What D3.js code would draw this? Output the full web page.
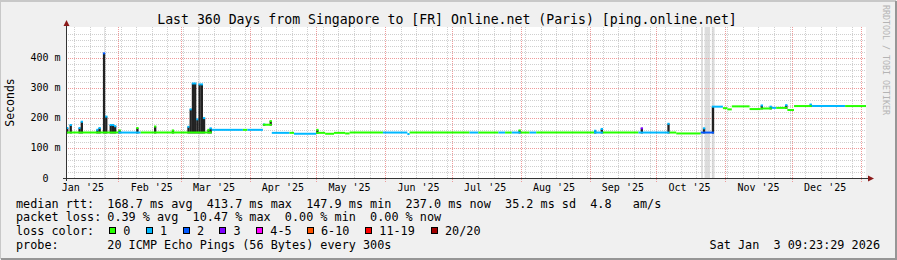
<!DOCTYPE html>
<html>
<head>
<meta charset="utf-8">
<script src="https://cdn.jsdelivr.net/npm/d3@7"></script>
<style>
  body { margin: 0; background: #f0f0f0; }
  svg { display: block; }
  text { font-family: "DejaVu Sans Mono", monospace; white-space: pre; }
</style>
</head>
<body>
<script>
// median rtt, one entry per change (date, ms, loss class)
const medianDates = ["2025-01-08","2025-02-01","2025-02-11","2025-03-15","2025-03-29","2025-03-31","2025-04-07","2025-04-11",
  "2025-04-19","2025-04-21","2025-05-01","2025-05-05","2025-05-09","2025-05-14","2025-05-16","2025-05-31","2025-06-11",
  "2025-06-12","2025-07-09","2025-07-13","2025-07-22","2025-07-25","2025-07-28","2025-08-01","2025-08-05","2025-08-08",
  "2025-09-03","2025-09-07","2025-09-23","2025-10-07","2025-10-10","2025-10-21","2025-10-27","2025-10-31","2025-11-02",
  "2025-11-04","2025-11-12","2025-11-17","2025-11-22","2025-11-24","2025-11-29","2025-12-02","2025-12-10","2025-12-25"];
const medianValues = [151,151,151,160,160,160,177,150,
  150,147,150,147,150,148,151,151,146,
  151,151,151,151,151,151,151,151,151,
  151,151,151,151,148,151,237,232,228,
  238,229,231,233,233,226,239,239,239];
const medianLoss = [0,1,0,1,0,1,0,1,
  0,1,0,0,0,0,0,1,1,
  0,1,0,1,0,1,0,1,0,
  1,0,1,0,0,2,1,0,0,
  0,0,0,1,0,0,0,1,0];

// smoke spikes (date, top ms, loss class of the median on top)
const spikeDates = ["2025-01-08 10:00","2025-01-10","2025-01-14","2025-01-15","2025-01-22","2025-01-23","2025-01-25","2025-01-26",
  "2025-01-28","2025-01-29","2025-01-30","2025-02-01","2025-02-09","2025-02-17","2025-02-25","2025-03-04","2025-03-05",
  "2025-03-06","2025-03-07","2025-03-08","2025-03-09","2025-03-10","2025-03-11","2025-03-13","2025-03-14","2025-04-07",
  "2025-04-10","2025-05-01","2025-07-31","2025-09-03","2025-09-06","2025-09-24","2025-10-06","2025-10-22","2025-10-26",
  "2025-11-17","2025-11-21","2025-11-28","2025-12-09"];
const spikeTops = [166,176,166,187,160,166,414,204,
  176,176,172,158,166,171,158,170,228,
  314,314,195,311,311,199,160,165,178,
  189,160,158,157,163,165,180,165,237,
  241,237,242,244];
const spikeLoss = [1,1,1,1,1,1,2,1,
  1,1,1,0,0,0,0,1,1,
  1,1,1,1,1,1,0,1,1,
  0,0,0,1,1,3,1,1,1,
  1,1,1,1];

// periods without data
const unknownStart = ["2025-01-25 14:00","2025-03-09 04:00","2025-10-21 04:00","2025-10-22 18:00","2025-10-26 00:00"];
const unknownEnd   = ["2025-01-25 22:00","2025-03-09 12:00","2025-10-22 00:00","2025-10-25 06:00","2025-10-27 06:00"];

const lossColors = ["#26ff00","#00b8ff","#0059ff","#7e00ff","#ff00ff","#ff5500","#ff0000","#a10000"];
const lossLabels = ["0","1","2","3","4-5","6-10","11-19","20/20"];
const yTicks = [0, 100, 200, 300, 400];
const rttLine = "168.7 ms avg  413.7 ms max  147.9 ms min  237.0 ms now  35.2 ms sd  4.8   am/s";
const lossLine = "0.39 % avg  10.47 % max  0.00 % min  0.00 % now";

const title = "Last 360 Days from Singapore to [FR] Online.net (Paris) [ping.online.net]";
const probeText = "20 ICMP Echo Pings (56 Bytes) every 300s";
const stamp = "Sat Jan  3 09:23:29 2026";

const W = 897, H = 260;
const pDay = d3.timeParse("%Y-%m-%d"), pHour = d3.timeParse("%Y-%m-%d %H:%M");
const parse = s => s.length > 10 ? pHour(s) : pDay(s);

const tStart = pHour("2025-01-08 09:23"), tEnd = pHour("2026-01-03 09:23");
const x = d3.scaleTime().domain([tStart, tEnd]).range([66, 866]);
const y = d3.scaleLinear().domain([0, 500]).range([178, 27.5]);
const px = v => Math.round(v) + 0.5;

const svg = d3.select("body").append("svg").attr("width", W).attr("height", H);

// canvas + frame
svg.append("rect").attr("width", W).attr("height", H).attr("fill", "#f0f0f0");
svg.append("path").attr("d", `M0,${H-1}V1H${W-1}`).attr("fill", "none").attr("stroke", "#c8c8c8").attr("stroke-width", 2);
svg.append("path").attr("d", `M1,${H-1}H${W-1}V1`).attr("fill", "none").attr("stroke", "#969696").attr("stroke-width", 2);

svg.append("rect").attr("x", 66).attr("y", 27).attr("width", 800).attr("height", 151).attr("fill", "#fff");

// unknown bands
svg.append("g").selectAll("rect").data(unknownStart).join("rect")
  .attr("x", (d, i) => x(parse(d)))
  .attr("width", (d, i) => x(parse(unknownEnd[i])) - x(parse(d)))
  .attr("y", 27).attr("height", 151).attr("fill", "#dcdcdc");

// grid
const grid = svg.append("g").attr("fill", "none").attr("stroke-width", 1).attr("stroke-dasharray", "1,1");
d3.range(20, 500, 20).filter(v => v % 100 != 0).forEach(v => {
  grid.append("line").attr("x1", 66).attr("x2", 866).attr("y1", px(y(v))).attr("y2", px(y(v))).attr("stroke", "#cfcfcf");
});
d3.timeSunday.range(tStart, tEnd).forEach(t => {
  grid.append("line").attr("x1", px(x(t))).attr("x2", px(x(t))).attr("y1", 27).attr("y2", 178).attr("stroke", "#cfcfcf");
});
yTicks.filter(v => v > 0).forEach(v => {
  grid.append("line").attr("x1", 66).attr("x2", 866).attr("y1", px(y(v))).attr("y2", px(y(v))).attr("stroke", "#ee9a9a");
});
d3.timeMonth.range(tStart, tEnd).forEach(t => {
  grid.append("line").attr("x1", px(x(t))).attr("x2", px(x(t))).attr("y1", 27).attr("y2", 182).attr("stroke", "#ee9a9a");
});

// median lookup for spike base
const medTimes = medianDates.map(parse);
const medAt = t => medianValues[Math.max(0, d3.bisectRight(medTimes, t) - 1)];

// smoke spikes
const spikes = svg.append("g");
spikeDates.forEach((d, i) => {
  const t = parse(d), x0 = Math.max(66, x(t)), top = y(spikeTops[i]), base = y(medAt(t) - 3);
  spikes.append("rect").attr("x", x0).attr("width", 2.3).attr("y", top).attr("height", base - top).attr("fill", "#222");
  spikes.append("rect").attr("x", x0).attr("width", 2.3).attr("y", top - 1).attr("height", 2).attr("fill", lossColors[spikeLoss[i]]);
});

// median line, coloured by loss
const med = svg.append("g");
medianDates.forEach((d, i) => {
  const x1 = Math.max(66, x(medTimes[i]));
  const x2 = i + 1 < medianDates.length ? x(medTimes[i + 1]) : 866;
  med.append("line").attr("x1", x1).attr("x2", x2).attr("y1", y(medianValues[i])).attr("y2", y(medianValues[i]))
    .attr("stroke", lossColors[medianLoss[i]]).attr("stroke-width", 2);
});

// axes
svg.append("line").attr("x1", 63).attr("x2", 869).attr("y1", 178.5).attr("y2", 178.5).attr("stroke", "#333");
svg.append("line").attr("x1", 66.5).attr("x2", 66.5).attr("y1", 24).attr("y2", 181).attr("stroke", "#333");
svg.append("path").attr("d", "M63.5,26L69.5,26L66.5,20Z").attr("fill", "#8b1a1a");
svg.append("path").attr("d", "M868,175.5L868,181.5L874,178.5Z").attr("fill", "#8b1a1a");

// y tick labels
svg.append("g").attr("font-size", 10).attr("text-anchor", "end").selectAll("text").data(yTicks).join("text")
  .attr("x", d => d == 0 ? 48.5 : 60.5).attr("y", d => y(d) + 3.5)
  .text(d => d == 0 ? "0" : d + " m");

// x labels at mid-month
const fmt = d3.timeFormat("%b '%y");
svg.append("g").attr("font-size", 10).attr("text-anchor", "middle").selectAll("text")
  .data(d3.timeMonth.range(d3.timeMonth.floor(tStart), tEnd).map(m => d3.timeDay.offset(m, 15)).filter(t => t > tStart && t < tEnd))
  .join("text").attr("x", d => x(d)).attr("y", 190.5).text(d => fmt(d));

// title, axis label, watermark
svg.append("text").attr("x", 447).attr("y", 24).attr("text-anchor", "middle").attr("font-size", 13.2).text(title);
svg.append("text").attr("transform", "translate(14,102.5) rotate(-90)").attr("text-anchor", "middle").attr("font-size", 11.5).text("Seconds");
svg.append("text").attr("transform", "translate(883,5) rotate(90)").attr("font-size", 8.3).attr("fill", "#b4b4b4").text("RRDTOOL / TOBI OETIKER");

// legend
const leg = svg.append("g").attr("font-size", 11.8);
const line = (tx, lx, ly) => leg.append("text").attr("xml:space", "preserve").attr("x", lx).attr("y", ly).text(tx);
line("median rtt:", 16, 207.5);
line(rttLine, 107.3, 207.5);
line("packet loss:", 16, 221.3);
line(lossLine, 107.3, 221.3);
line("loss color:", 16, 235);
const boxX = [109, 145.7, 182.7, 219.3, 256, 306.7, 365, 430.7];
lossLabels.forEach((s, i) => {
  leg.append("rect").attr("x", Math.round(boxX[i]) + 0.5).attr("y", 227.5).attr("width", 6).attr("height", 6)
    .attr("fill", lossColors[i]).attr("stroke", "#000");
  line(s, boxX[i] + 14.3, 235);
});
line("probe:", 16, 249);
line(probeText, 107.3, 249);
line(stamp, 880, 249).attr("text-anchor", "end");
</script>
</body>
</html>
